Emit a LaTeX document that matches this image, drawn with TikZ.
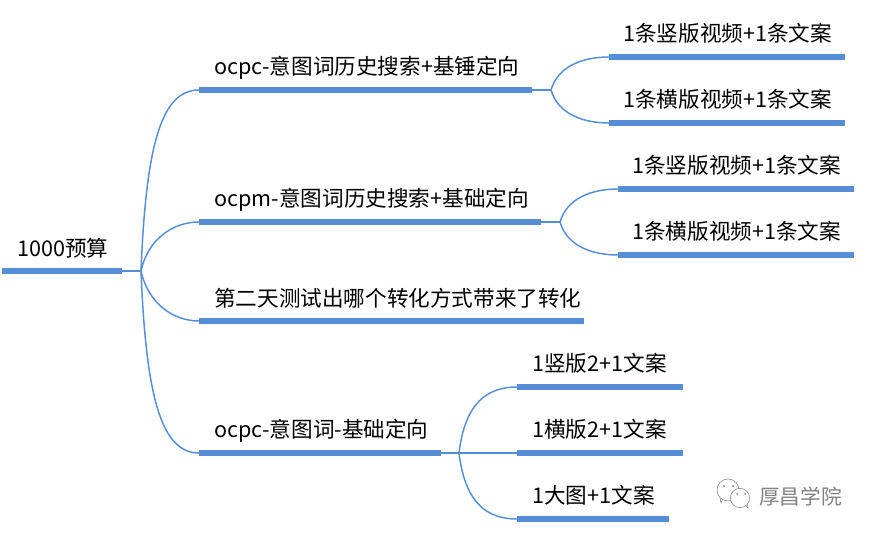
\documentclass[tikz,border=0pt]{standalone}
\usepackage{xcolor}
\usepackage{fontspec}
\setmainfont{Noto Sans CJK SC}
\usetikzlibrary{positioning,calc}
\definecolor{mapblue}{RGB}{85,142,213}
\definecolor{markgray}{RGB}{130,130,130}
\tikzset{
    bar/.style={fill=mapblue, inner sep=0pt, minimum height=3.8pt, minimum width=#1*0.75pt, anchor=west},
    topic/.style={inner sep=0pt, anchor=west, text=black, yshift=-0.4pt, font=\fontsize{16.2}{16}\selectfont},
    branch/.style={mapblue, line width=1.1pt},
    stem/.style={branch, shorten <=-1pt},
    bubble/.style={circle, draw=markgray, fill=white, line width=0.4pt, inner sep=0pt},
    eye/.style={circle, fill=markgray, inner sep=0pt, minimum size=1.5pt}
}

\begin{document}
\begin{tikzpicture}[x=0.75pt, y=-0.75pt]
    \useasboundingbox (0,0) rectangle (870,534);

    % Root
    \node[bar=120] (rootbar) at (2,271) {};
    \node[topic] (roottext) at (17,248) {1000预算};
    \coordinate (hub) at (141,271);
    \draw[stem] (rootbar.east) -- (hub);

    % First level bars
    \node[bar=333] (barA) at (199,90) {};
    \node[bar=342] (barB) at (199,222) {};
    \node[bar=385] (barC) at (199,321) {};
    \node[bar=242] (barD) at (199,453) {};
    \node[topic] (textA) at (214,67) {ocpc-意图词历史搜索+基锤定向};
    \node[topic] (textB) at (214,199) {ocpm-意图词历史搜索+基础定向};
    \node[topic] (textC) at (214,298) {第二天测试出哪个转化方式带来了转化};
    \node[topic] (textD) at (214,430) {ocpc-意图词-基础定向};

    % Curves from the root
    \draw[branch] (hub) .. controls +(5,-125) and +(-38,0) .. (barA.west);
    \draw[branch] (hub) .. controls +(7,-32) and +(-26,0) .. (barB.west);
    \draw[branch] (hub) .. controls +(7,32) and +(-26,0) .. (barC.west);
    \draw[branch] (hub) .. controls +(5,125) and +(-38,0) .. (barD.west);

    % Group A
    \coordinate (hubA) at (551,90);
    \node[bar=236] (barAa) at (609,57) {};
    \node[bar=236] (barAb) at (609,123) {};
    \node[topic] (textAa) at (623,33) {1条竖版视频+1条文案};
    \node[topic] (textAb) at (623,99) {1条横版视频+1条文案};
    \draw[stem] (barA.east) -- (hubA);
    \draw[branch] (hubA) .. controls +(7,-24) and +(-26,0) .. (barAa.west);
    \draw[branch] (hubA) .. controls +(7,24) and +(-26,0) .. (barAb.west);

    % Group B
    \coordinate (hubB) at (560,222);
    \node[bar=236] (barBa) at (618,189) {};
    \node[bar=236] (barBb) at (618,255) {};
    \node[topic] (textBa) at (632,165) {1条竖版视频+1条文案};
    \node[topic] (textBb) at (632,231) {1条横版视频+1条文案};
    \draw[stem] (barB.east) -- (hubB);
    \draw[branch] (hubB) .. controls +(7,-24) and +(-26,0) .. (barBa.west);
    \draw[branch] (hubB) .. controls +(7,24) and +(-26,0) .. (barBb.west);

    % Group D
    \coordinate (hubD) at (459,453);
    \node[bar=166] (barDa) at (517,387) {};
    \node[bar=166] (barDb) at (517,453) {};
    \node[bar=152] (barDc) at (517,519) {};
    \node[topic] (textDa) at (532,363) {1竖版2+1文案};
    \node[topic] (textDb) at (532,429) {1横版2+1文案};
    \node[topic] (textDc) at (532,495) {1大图+1文案};
    \draw[stem] (barD.east) -- (barDb.west);
    \draw[branch] (hubD) .. controls +(6,-50) and +(-30,0) .. (barDa.west);
    \draw[branch] (hubD) .. controls +(6,50) and +(-30,0) .. (barDc.west);

    % Watermark
    \node[bubble, minimum size=16.5pt] (bubbleL) at (728,490) {};
    \node[bubble, minimum size=14.5pt] (bubbleR) at (740,498) {};
    \node[eye] (eyeLa) at (724,486) {};
    \node[eye] (eyeLb) at (733,486) {};
    \node[eye] (eyeRa) at (737,494) {};
    \node[eye] (eyeRb) at (745,494) {};
    \coordinate (tailL) at (721,503);
    \coordinate (tailR) at (748,508);
    \draw[markgray, line width=0.4pt] (bubbleL.240) -- (tailL) -- (bubbleL.225);
    \draw[markgray, line width=0.4pt] (bubbleR.305) -- (tailR) -- (bubbleR.320);
    \node[topic, text=markgray, font=\fontsize{15.5}{16}\selectfont] (marktext) at (759,496) {厚昌学院};
\end{tikzpicture}
\end{document}
